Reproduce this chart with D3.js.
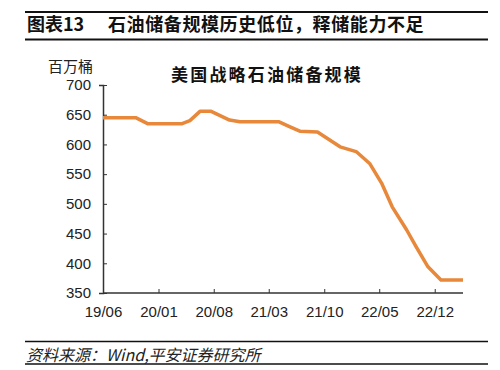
<!DOCTYPE html>
<html>
<head>
<meta charset="utf-8">
<script src="https://cdn.jsdelivr.net/npm/d3@7"></script>
<style>
  body { margin: 0; background: #fff; }
  svg { display: block; font-family: "Liberation Sans", Arial, "Noto Sans CJK SC", sans-serif; }
</style>
</head>
<body>
<svg id="chart" width="500" height="370"></svg>
<script>
// SPR stocks, million barrels
const dates = ['2019-06-01', '2019-10-05', '2019-11-20', '2020-04-01', '2020-05-01', '2020-06-10',
  '2020-07-20', '2020-10-01', '2020-11-10', '2021-04-10', '2021-05-20', '2021-07-01', '2021-09-05',
  '2021-12-01', '2022-02-01', '2022-03-25', '2022-05-10', '2022-06-20', '2022-08-15', '2022-09-20',
  '2022-11-05', '2022-12-25', '2023-03-20']
const values = [645, 645, 635, 635, 640, 656, 656, 641, 638, 638, 630, 622, 621,
  596, 588, 568, 535, 495, 456, 428, 394, 372, 372]
const tickLabels = ['19/06', '20/01', '20/08', '21/03', '21/10', '22/05', '22/12']
const yTicks = [350, 400, 450, 500, 550, 600, 650, 700]

const parse = d3.timeParse('%Y-%m-%d')
const data = dates.map((d, i) => ({ date: parse(d), value: values[i] }))
const tickDates = tickLabels.map((t) => d3.timeParse('%y/%m')(t))

const CJK = '"Noto Sans CJK SC", sans-serif'
const svg = d3.select('#chart')

const x = d3.scaleTime()
  .domain([parse('2019-06-01'), parse('2023-03-20')])
  .range([103, 463])

const y = d3.scaleLinear().domain([350, 700]).range([293, 85])

// header + footer rules
const rule = (yy, w) => svg.append('line')
  .attr('x1', 25).attr('x2', 488).attr('y1', yy).attr('y2', yy)
  .attr('stroke', '#111').attr('stroke-width', w)
rule(12, 2)
rule(39.5, 2)
rule(341.5, 1.5)
rule(364, 1.5)

const head = svg.append('text')
  .attr('x', 27).attr('y', 31)
  .attr('font-size', 18).attr('font-weight', 'bold').attr('fill', '#111')
  .attr('font-family', CJK)
head.append('tspan').text('图表13')
head.append('tspan').attr('x', 108).attr('letter-spacing', 0.6).text('石油储备规模历史低位，释储能力不足')

svg.append('text')
  .attr('x', 26).attr('y', 361)
  .attr('font-size', 16).attr('font-style', 'italic').attr('fill', '#222')
  .attr('font-family', CJK)
  .text('资料来源：Wind,平安证券研究所')

// chart title and unit
svg.append('text')
  .attr('x', 267).attr('y', 81).attr('text-anchor', 'middle')
  .attr('font-size', 17).attr('font-weight', 'bold').attr('fill', '#111')
  .attr('letter-spacing', 2.2)
  .attr('font-family', CJK)
  .text('美国战略石油储备规模')

svg.append('text')
  .attr('x', 48).attr('y', 72)
  .attr('font-size', 15).attr('fill', '#222')
  .attr('font-family', CJK)
  .text('百万桶')

// axes
const yAxis = svg.append('g')
  .attr('transform', 'translate(103,0)')
  .call(d3.axisLeft(y).tickValues(yTicks).tickSize(4).tickPadding(8))
yAxis.select('.domain').attr('stroke', '#333').attr('stroke-width', 1.5)
yAxis.selectAll('.tick line').attr('stroke', '#333').attr('x1', 0).attr('x2', 4)
yAxis.selectAll('.tick text').attr('font-size', 15).attr('fill', '#222')

const xAxis = svg.append('g')
  .attr('transform', 'translate(0,293)')
  .call(d3.axisBottom(x).tickValues(tickDates).tickFormat(d3.timeFormat('%y/%m')).tickSize(4).tickPadding(9))
xAxis.select('.domain').attr('stroke', '#333').attr('stroke-width', 1.5)
  .attr('d', 'M103,0H463')
xAxis.selectAll('.tick line').attr('stroke', '#333').attr('y1', 0).attr('y2', -4)
xAxis.selectAll('.tick text').attr('font-size', 15).attr('fill', '#222')

// series
const line = d3.line()
  .x((d) => x(d.date))
  .y((d) => y(d.value))

svg.append('path')
  .datum(data)
  .attr('d', line)
  .attr('fill', 'none')
  .attr('stroke', '#E8883A')
  .attr('stroke-width', 3.5)
  .attr('stroke-linejoin', 'round')
</script>
</body>
</html>
